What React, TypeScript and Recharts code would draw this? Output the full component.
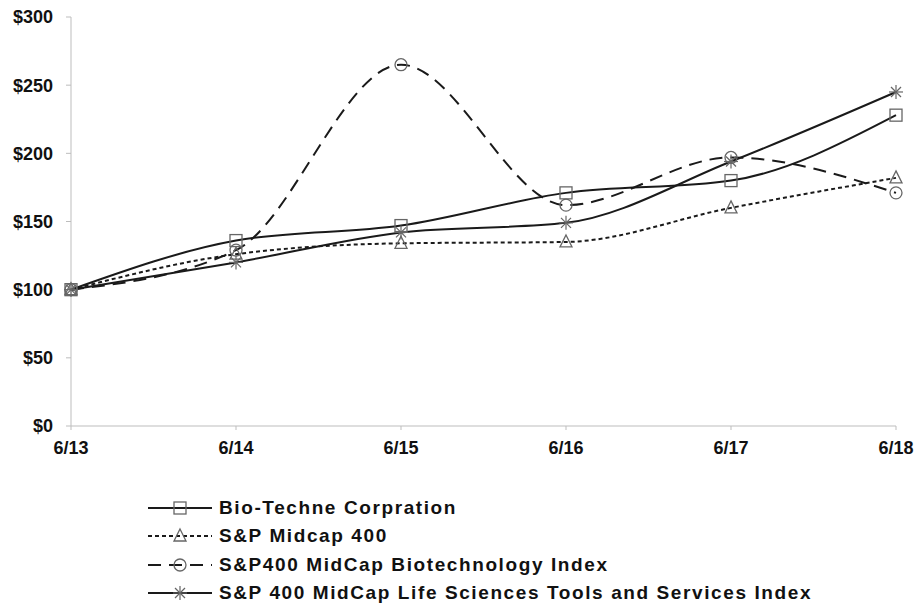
import React from "react";
import { LineChart, Line, XAxis, YAxis } from "recharts";

const years = ["6/13", "6/14", "6/15", "6/16", "6/17", "6/18"];
const bioTechne = [100, 136, 147, 171, 180, 228];
const spMidcap = [100, 126, 134, 135, 160, 182];
const spBiotech = [100, 129, 265, 162, 197, 171];
const spLifeSci = [100, 120, 142, 149, 194, 245];
const yTicks = [0, 50, 100, 150, 200, 250, 300];

const SERIES = [
  { key: "bio", name: "Bio-Techne Corpration", dash: undefined, marker: "square" },
  { key: "mid", name: "S&P Midcap 400", dash: "4 3", marker: "triangle" },
  { key: "biotech", name: "S&P400 MidCap Biotechnology Index", dash: "13 8", marker: "circle" },
  { key: "life", name: "S&P 400 MidCap Life Sciences Tools and Services Index", dash: undefined, marker: "star" },
];

const data = years.map((y, i) => ({
  year: y,
  bio: bioTechne[i],
  mid: spMidcap[i],
  biotech: spBiotech[i],
  life: spLifeSci[i],
}));

const LINE = "#1a1a1a";
const MARK = "#666";
const FONT = "'Liberation Sans', Arial, sans-serif";

function Marker({ type, cx, cy }: { type: string; cx: number; cy: number }) {
  if (type === "square")
    return <rect x={cx - 6} y={cy - 6} width={12} height={12} fill="none" stroke={MARK} strokeWidth={1.3} />;
  if (type === "triangle")
    return (
      <polygon
        points={`${cx},${cy - 7} ${cx + 6},${cy + 5} ${cx - 6},${cy + 5}`}
        fill="none"
        stroke={MARK}
        strokeWidth={1.3}
      />
    );
  if (type === "circle") return <circle cx={cx} cy={cy} r={6} fill="none" stroke={MARK} strokeWidth={1.3} />;
  return (
    <g stroke={MARK} strokeWidth={1.2}>
      <line x1={cx - 7} y1={cy} x2={cx + 7} y2={cy} />
      <line x1={cx} y1={cy - 7} x2={cx} y2={cy + 7} />
      <line x1={cx - 5} y1={cy - 5} x2={cx + 5} y2={cy + 5} />
      <line x1={cx - 5} y1={cy + 5} x2={cx + 5} y2={cy - 5} />
    </g>
  );
}

const makeDot = (type: string) => (props: any) => {
  const { cx, cy, index } = props;
  if (cx == null || cy == null) return <g key={index} />;
  return <Marker key={index} type={type} cx={cx} cy={cy} />;
};

function LegendBlock() {
  return (
    <div style={{ position: "absolute", left: 146, top: 494, fontFamily: FONT }}>
      {SERIES.map((s) => (
        <div key={s.key} style={{ display: "flex", alignItems: "center", height: 28.3 }}>
          <svg width={68} height={20} style={{ marginRight: 5 }}>
            <line x1={2} y1={10} x2={66} y2={10} stroke={LINE} strokeWidth={2} strokeDasharray={s.dash} />
            <Marker type={s.marker} cx={34} cy={10} />
          </svg>
          <span style={{ fontSize: 19, fontWeight: "bold", color: "#111", letterSpacing: "1.6px" }}>{s.name}</span>
        </div>
      ))}
    </div>
  );
}

export default function App() {
  return (
    <div style={{ position: "absolute", left: 0, top: 0, width: 917, height: 603, background: "#fff" }}>
      <LineChart
        width={917}
        height={462}
        data={data}
        margin={{ top: 17, right: 21, left: 0, bottom: 0 }}
      >
        <XAxis
          dataKey="year"
          axisLine={{ stroke: "#bdbdbd" }}
          tickLine={{ stroke: "#bdbdbd" }}
          tickSize={4}
          height={36}
          interval={0}
          tick={{ fill: "#111", fontSize: 18, fontWeight: "bold", fontFamily: FONT }}
          tickMargin={11}
        />
        <YAxis
          domain={[0, 300]}
          ticks={yTicks}
          width={71}
          axisLine={{ stroke: "#bdbdbd" }}
          tickLine={{ stroke: "#bdbdbd" }}
          tickSize={5}
          tickMargin={13}
          tickFormatter={(v) => `$${v}`}
          tick={{ fill: "#111", fontSize: 18, fontWeight: "bold", fontFamily: FONT }}
        />
        {SERIES.map((s) => (
          <Line
            key={s.key}
            dataKey={s.key}
            name={s.name}
            type="monotone"
            stroke={LINE}
            strokeWidth={2}
            strokeDasharray={s.dash}
            dot={makeDot(s.marker)}
            activeDot={false}
            isAnimationActive={false}
          />
        ))}
      </LineChart>
      <LegendBlock />
    </div>
  );
}
